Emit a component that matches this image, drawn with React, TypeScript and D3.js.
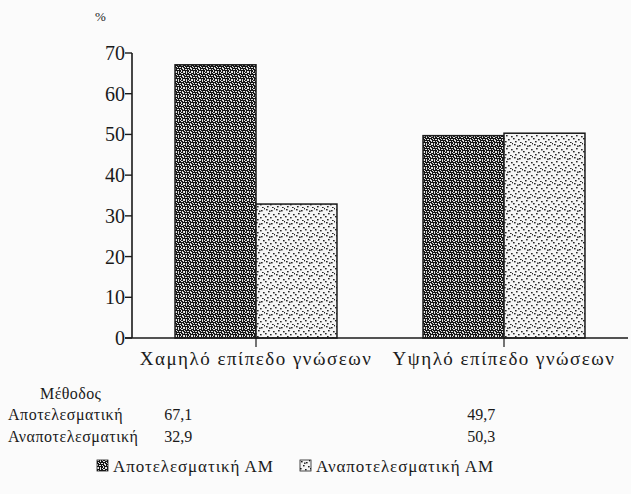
import React, { useEffect } from 'react';
import * as d3 from 'd3';

// data
const categories = ['Χαμηλό επίπεδο γνώσεων', 'Υψηλό επίπεδο γνώσεων'];
const series = ['Αποτελεσματική', 'Αναποτελεσματική'];
const effective = [67.1, 49.7];
const ineffective = [32.9, 50.3];
const yTicks = [0, 10, 20, 30, 40, 50, 60, 70];
const tableTitle = 'Μέθοδος';
const legendLabels = ['Αποτελεσματική ΑΜ', 'Αναποτελεσματική ΑΜ'];

const W = 631;
const H = 494;
const margin = { top: 53, right: 3, bottom: 156, left: 132 };
const serif = { fontFamily: "'Liberation Serif', 'Times New Roman', serif" };
const ink = '#1a1a1a';

// fixed texture tiles (no randomness) to mimic the printed screens
const darkSpecks: [number, number, number, number][] = [
  [0, 0, 2, 1], [3, 0, 1, 2], [6, 1, 2, 1], [1, 2, 1, 1], [4, 3, 2, 1], [7, 3, 1, 2],
  [0, 4, 1, 2], [2, 5, 2, 1], [5, 5, 1, 1], [3, 7, 1, 1], [6, 6, 1, 2], [0, 7, 2, 1],
  [5, 0, 1, 1], [2, 3, 1, 1],
];
const lightDots: [number, number][] = [
  [1, 1], [6, 2], [3, 5], [8, 6], [0, 8], [5, 9], [9, 0], [2, 11], [7, 12], [4, 2.5],
];

export default function App() {
  useEffect(() => {
    document.body.style.margin = '0';
  }, []);

  const values = [effective, ineffective];

  const x0 = d3.scaleBand<string>()
    .domain(categories)
    .range([margin.left, W - margin.right])
    .paddingInner(0.347)
    .paddingOuter(0.1735);

  const x1 = d3.scaleBand<string>()
    .domain(series)
    .range([0, x0.bandwidth()]);

  const y = d3.scaleLinear()
    .domain([0, 70])
    .range([H - margin.bottom, margin.top]);

  const fills = ['url(#dark)', 'url(#light)'];
  const y0 = y(0);
  const step = x0.step();

  return (
    <svg width={W} height={H} style={{ display: 'block', background: '#fbfbfb' }}>
      <defs>
        <pattern id="dark" width={8} height={8} patternUnits="userSpaceOnUse">
          <rect width={8} height={8} fill="#141414" />
          {darkSpecks.map(([px, py, w, h], i) => (
            <rect key={i} x={px} y={py} width={w} height={h} fill="#e6e6e6" />
          ))}
        </pattern>
        <pattern id="light" width={10} height={13} patternUnits="userSpaceOnUse">
          <rect width={10} height={13} fill="#f5f5f5" />
          {lightDots.map(([px, py], i) => (
            <rect key={i} x={px} y={py} width={1.6} height={1.4} fill="#1e1e1e" />
          ))}
        </pattern>
      </defs>

      {/* bars */}
      {categories.map((c, ci) => (
        <g key={c} transform={`translate(${x0(c)},0)`}>
          {series.map((s, si) => (
            <rect
              key={s}
              x={x1(s)}
              y={y(values[si][ci])}
              width={x1.bandwidth()}
              height={y0 - y(values[si][ci])}
              fill={fills[si]}
              stroke={ink}
              strokeWidth={1.5}
            />
          ))}
        </g>
      ))}

      {/* y axis */}
      <line x1={margin.left} x2={margin.left} y1={y(70)} y2={y0} stroke={ink} strokeWidth={1.6} />
      {yTicks.map(t => (
        <g key={t} transform={`translate(${margin.left},${y(t)})`}>
          <line x1={-7} x2={0} stroke={ink} strokeWidth={1.4} />
          <text x={-7} dy="0.35em" textAnchor="end" fontSize={20} style={serif} fill={ink}>{t}</text>
        </g>
      ))}
      <text x={margin.left - 37} y={21} fontSize={13} style={serif} fill={ink}>%</text>

      {/* x axis */}
      <line x1={margin.left - 7} x2={W - margin.right} y1={y0} y2={y0} stroke={ink} strokeWidth={1.6} />
      {categories.map(c => {
        const cx = (x0(c) ?? 0) + x0.bandwidth() / 2;
        return (
          <g key={c}>
            <line x1={cx} x2={cx} y1={y0} y2={y0 + 9} stroke={ink} strokeWidth={1.2} />
            <text x={cx} y={y0 + 27} textAnchor="middle" fontSize={19} letterSpacing={1.5} style={serif} fill={ink}>{c}</text>
          </g>
        );
      })}

      {/* data table */}
      <text x={40} y={399} fontSize={16} letterSpacing={0.4} style={serif} fill={ink}>{tableTitle}</text>
      {series.map((s, si) => (
        <g key={s}>
          <text x={8} y={420 + si * 22} fontSize={16} letterSpacing={0.5} style={serif} fill={ink}>{s}</text>
          {categories.map((c, ci) => (
            <text
              key={c}
              x={(x0(c) ?? 0) + x0.bandwidth() / 2 - step * 0.37}
              y={420 + si * 22}
              fontSize={16}
              style={serif}
              fill={ink}
              textAnchor="start"
              dx={ci === 0 ? 0 : 55}
            >
              {values[si][ci].toFixed(1).replace('.', ',')}
            </text>
          ))}
        </g>
      ))}

      {/* legend */}
      {legendLabels.map((l, i) => (
        <g key={l} transform={`translate(${97 + i * 203},${460})`}>
          <rect width={11} height={11} fill={fills[i]} stroke={ink} strokeWidth={0.8} />
          <text x={16} y={12} fontSize={17} letterSpacing={0.9} style={serif} fill={ink}>{l}</text>
        </g>
      ))}
    </svg>
  );
}
